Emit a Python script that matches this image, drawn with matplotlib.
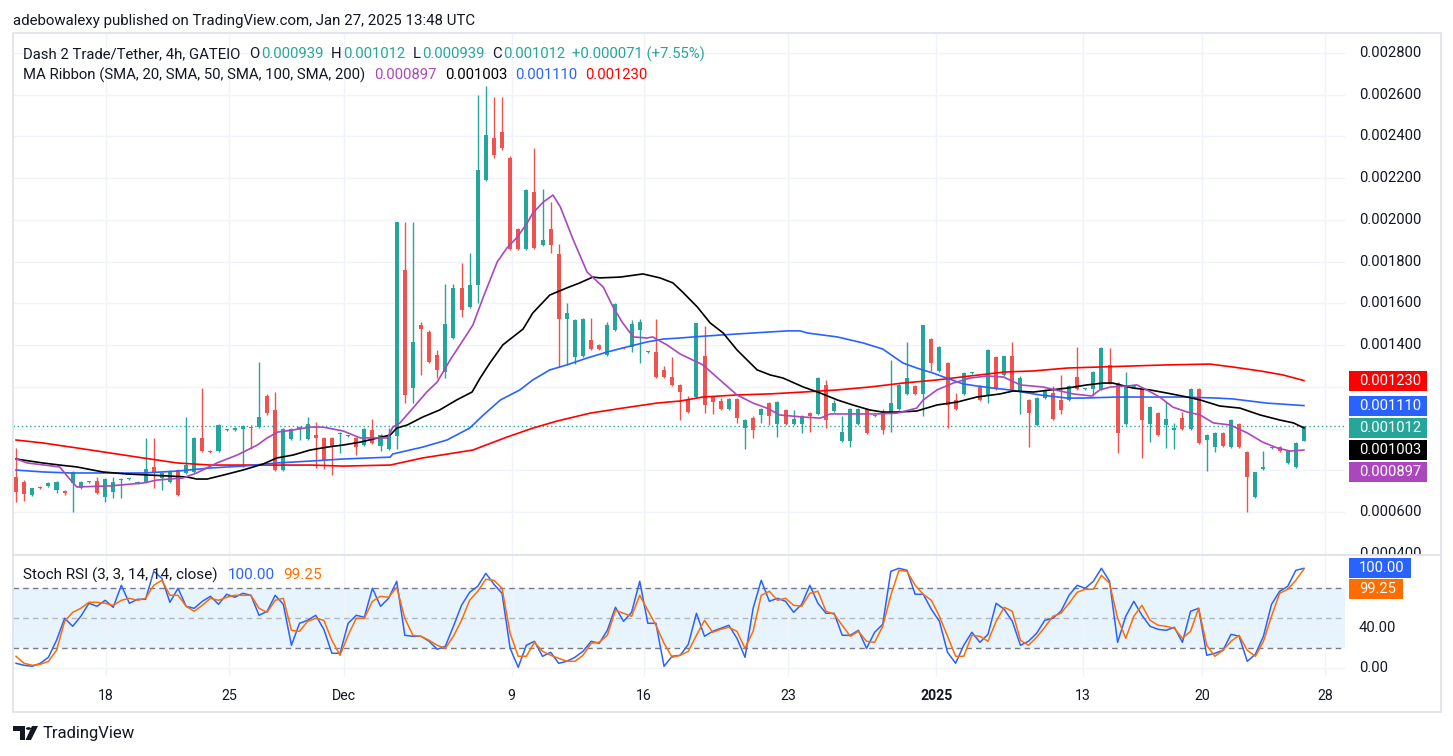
import numpy as np
import matplotlib

matplotlib.use("Agg")
import matplotlib.pyplot as plt
from matplotlib.patches import Rectangle, Polygon, Circle
from matplotlib.transforms import blended_transform_factory

plt.rcParams["font.family"] = ["Roboto", "DejaVu Sans"]

# ---------------------------------------------------------------------------
# Data (prices in millionths of USDT, one candle per slot)
# ---------------------------------------------------------------------------
OPEN = [768, 744, 681, 720, 725, 705, 701, 739, 715, 744,
        748, 672, 696, 753, 758, 739, 744, 816, 763, 744,
        801, 787, 792, 955, 892, 892, 991, 993, 998, 1007,
        1007, 1156, 1089, 801, 950, 998, 950, 969, 955, 955,
        974, 964, 955, 921, 993, 916, 902, 964, 1760, 1194,
        1496, 1463, 1353, 1271, 1434, 1674, 1583, 1688, 2191, 2393,
        2421, 2297, 1956, 1860, 2134, 1880, 1956, 1837, 1525, 1343,
        1348, 1424, 1401, 1353, 1472, 1386, 1391, 1472, 1367, 1367,
        1281, 1247, 1209, 1137, 1151, 1348, 1151, 1132, 1094, 1142,
        1002, 1050, 1065, 1122, 1022, 1089, 1022, 1022, 1074, 1070,
        1209, 1084, 940, 940, 1022, 1094, 1060, 1079, 1074, 1094,
        1166, 1204, 1166, 1429, 1276, 1314, 1137, 1166, 1266, 1204,
        1161, 1343, 1257, 1348, 1175, 1137, 1017, 1146, 1170, 1137,
        1137, 1247, 1190, 1190, 1190, 1305, 1218, 1022, 1199, 1190,
        1022, 1074, 1017, 993, 1050, 998, 1190, 945, 911, 979,
        911, 1022, 887, 672, 806, 907, 911, 835, 816, 939]
HIGH = [907, 753, 715, 725, 744, 748, 705, 796, 748, 748,
        768, 763, 768, 763, 762, 748, 955, 955, 792, 801,
        806, 1055, 959, 1194, 897, 1022, 998, 1005, 1017, 1017,
        1319, 1166, 1175, 1002, 1002, 1012, 1055, 1031, 959, 959,
        983, 969, 959, 1002, 1046, 974, 1002, 1990, 1990, 1990,
        1511, 1472, 1377, 1693, 1693, 1793, 1841, 2599, 2642, 2589,
        2589, 2306, 1961, 2148, 2345, 2148, 2086, 1885, 1602, 1525,
        1530, 1530, 1405, 1511, 1602, 1391, 1520, 1525, 1372, 1525,
        1300, 1343, 1214, 1156, 1506, 1491, 1156, 1146, 1146, 1146,
        1046, 1060, 1098, 1127, 1132, 1094, 1089, 1065, 1079, 1247,
        1233, 1137, 1060, 1098, 1098, 1098, 1065, 1094, 1329, 1214,
        1415, 1209, 1496, 1434, 1396, 1319, 1170, 1271, 1271, 1209,
        1381, 1348, 1348, 1415, 1252, 1142, 1151, 1190, 1204, 1257,
        1209, 1391, 1194, 1276, 1391, 1386, 1223, 1271, 1214, 1194,
        1108, 1079, 1127, 1027, 1079, 1194, 1194, 974, 983, 983,
        1046, 1027, 892, 792, 892, 911, 916, 897, 935, 1012]
LOW = [648, 653, 677, 710, 720, 691, 681, 600, 710, 739,
       686, 648, 667, 667, 755, 734, 739, 715, 705, 739,
       677, 782, 787, 887, 883, 887, 988, 990, 816, 902,
       1002, 1065, 796, 796, 945, 945, 945, 811, 806, 777,
       883, 959, 873, 916, 926, 892, 897, 902, 1122, 1122,
       1257, 1314, 1242, 1242, 1429, 1535, 1578, 1602, 2187, 2297,
       2335, 1856, 1856, 1856, 1860, 1875, 1841, 1295, 1305, 1309,
       1343, 1377, 1377, 1348, 1467, 1381, 1367, 1314, 1362, 1242,
       1242, 1204, 1041, 1074, 1146, 1074, 1070, 1089, 1089, 1027,
       902, 955, 1027, 1017, 959, 1017, 1017, 979, 983, 1065,
       1002, 1079, 935, 911, 1017, 974, 1055, 974, 983, 1089,
       1161, 1161, 1060, 1276, 1271, 1002, 1089, 1161, 1261, 1132,
       1122, 1185, 1252, 1180, 1070, 911, 1012, 1142, 1041, 1070,
       1132, 1185, 1185, 1156, 1185, 1214, 883, 1017, 1194, 859,
       935, 964, 907, 902, 993, 993, 926, 796, 887, 911,
       907, 907, 600, 667, 801, 902, 887, 830, 811, 939]
CLOSE = [696, 686, 715, 715, 739, 744, 691, 792, 744, 748,
         691, 758, 744, 758, 760, 744, 806, 787, 787, 796,
         681, 825, 955, 892, 887, 1017, 995, 1002, 1012, 1002,
         1055, 1074, 801, 998, 998, 1007, 1022, 955, 849, 916,
         979, 966, 911, 998, 931, 969, 964, 1990, 1161, 1415,
         1477, 1319, 1281, 1501, 1674, 1568, 1688, 2239, 2407, 2311,
         2345, 1860, 1860, 2143, 1865, 1904, 1880, 1525, 1554, 1520,
         1525, 1381, 1381, 1496, 1597, 1384, 1501, 1511, 1369, 1247,
         1247, 1209, 1175, 1079, 1506, 1113, 1127, 1094, 1142, 1050,
         1041, 993, 1094, 1060, 1127, 1022, 1046, 1060, 1060, 1242,
         1041, 1122, 983, 1094, 1094, 979, 1062, 993, 1122, 1209,
         1242, 1166, 1496, 1314, 1391, 1113, 1094, 1266, 1268, 1137,
         1377, 1190, 1348, 1185, 1242, 1074, 1146, 1185, 1046, 1089,
         1204, 1190, 1192, 1271, 1386, 1218, 979, 1209, 1209, 1041,
         1103, 969, 1046, 1002, 998, 1190, 931, 969, 979, 916,
         1041, 911, 768, 792, 816, 909, 892, 897, 931, 1012]

# MA Ribbon lines, read at candle positions (x = candle slot)
SMA20_X = [0, 1.4, 5.4, 6.4, 7.5, 11.6, 15.7, 17.4, 20.6, 22.3,
           24.8, 27.3, 29.8, 31.0, 32.3, 34.2, 36.3, 37.9, 40.4, 42.5,
           45.9, 46.5, 47.4, 49.0, 50.7, 52.0, 53.6, 55.2, 56.4, 57.7,
           59.4, 60.6, 61.9, 63.1, 63.8, 65.1, 66.3, 67.2, 68.8, 70.5,
           72.5, 73.7, 74.9, 76.2, 77.9, 78.6, 80.4, 82.0, 84.8, 86.9,
           89.0, 91.0, 92.7, 94.3, 97.2, 99.3, 100.5, 103.3, 106.3, 108.8,
           111.2, 112.0, 113.7, 115.7, 117.8, 119.9, 121.9, 124.0, 126.8, 128.9,
           130.5, 132.8, 133.8, 135.1, 137.2, 138.4, 139.6, 141.2, 142.8, 144.6,
           146.2, 147.8, 149.9, 152.0, 153.9, 155.7, 157.3, 159]
SMA20 = [854, 835, 816, 768, 720, 725, 739, 753, 763, 787,
         835, 873, 921, 955, 983, 993, 1007, 1007, 988, 955,
         955, 1007, 1027, 1098, 1175, 1223, 1329, 1424, 1496, 1631,
         1798, 1865, 1918, 1985, 2033, 2086, 2119, 2062, 1904, 1750,
         1678, 1583, 1506, 1439, 1434, 1439, 1400, 1357, 1305, 1233,
         1161, 1122, 1098, 1065, 1055, 1050, 1070, 1070, 1070, 1074,
         1098, 1137, 1185, 1218, 1242, 1252, 1247, 1209, 1199, 1180,
         1166, 1156, 1185, 1199, 1204, 1209, 1185, 1151, 1103, 1079,
         1065, 1027, 1017, 979, 935, 907, 892, 897]
SMA50_X = [0, 3.3, 5.4, 7.5, 10.7, 13.7, 16.5, 21.1, 22.3, 23.6,
           25.6, 28.0, 30.5, 32.2, 34.2, 36.3, 38.4, 40.4, 42.5, 46.2,
           47.0, 48.3, 50.2, 52.3, 54.4, 56.3, 57.3, 58.5, 60.1, 62.6,
           63.8, 65.9, 68.0, 69.6, 71.2, 72.1, 74.6, 77.4, 79.5, 81.1,
           82.3, 84.1, 85.7, 87.3, 89.0, 91.5, 93.1, 94.7, 97.2, 99.3,
           101.4, 103.3, 105.4, 107.0, 108.8, 111.2, 113.7, 116.2, 118.6, 121.5,
           123.1, 125.6, 127.7, 129.8, 132.2, 134.2, 135.4, 137.9, 140.0, 142.1,
           144.6, 146.2, 148.6, 151.1, 153.6, 156.0, 157.7, 159]
SMA50 = [854, 835, 825, 816, 792, 782, 777, 768, 758, 758,
         777, 801, 830, 859, 873, 897, 911, 921, 935, 969,
         1002, 1017, 1055, 1089, 1137, 1175, 1242, 1314, 1401, 1477,
         1554, 1640, 1674, 1698, 1726, 1722, 1726, 1741, 1722, 1698,
         1654, 1583, 1506, 1458, 1377, 1281, 1257, 1242, 1199, 1170,
         1137, 1113, 1089, 1079, 1079, 1084, 1113, 1127, 1151, 1166,
         1180, 1175, 1185, 1194, 1209, 1218, 1218, 1194, 1185, 1170,
         1151, 1137, 1108, 1098, 1065, 1041, 1027, 1003]
SMA100_X = [0, 3.3, 6.7, 11.6, 15.7, 19.9, 24.0, 28.0, 32.2, 36.3,
            40.4, 46.2, 46.5, 50.2, 53.2, 56.0, 57.7, 59.8, 62.2, 63.8,
            65.9, 68.0, 70.5, 73.0, 75.4, 77.9, 79.9, 82.0, 83.6, 86.9,
            91.0, 95.2, 96.8, 97.7, 101.4, 104.6, 107.0, 109.5, 111.2, 113.2,
            114.9, 116.9, 118.6, 120.6, 122.7, 126.4, 129.8, 131.7, 135.9, 140.0,
            144.1, 148.3, 150.2, 154.4, 159]
SMA100 = [801, 792, 787, 787, 787, 796, 811, 820, 835, 844,
          854, 863, 878, 911, 945, 1002, 1065, 1137, 1185, 1233,
          1281, 1305, 1338, 1367, 1391, 1415, 1429, 1434, 1439, 1448,
          1458, 1468, 1468, 1458, 1439, 1410, 1381, 1314, 1290, 1266,
          1242, 1214, 1204, 1194, 1185, 1161, 1146, 1146, 1151, 1151,
          1151, 1146, 1142, 1122, 1110]
SMA200_X = [0, 3.3, 7.5, 11.6, 15.7, 19.9, 24.0, 28.0, 32.2, 36.3,
            40.4, 46.2, 50.2, 56.4, 60.6, 63.8, 66.8, 70.9, 74.9, 79.1,
            82.0, 84.8, 89.0, 93.1, 97.2, 101.4, 105.4, 109.5, 113.7, 117.8,
            122.1, 125.6, 129.8, 133.8, 137.9, 142.1, 147.4, 150.2, 153.6, 156.4,
            159]
SMA200 = [945, 931, 907, 883, 859, 835, 825, 825, 825, 825,
          820, 825, 859, 897, 959, 1002, 1036, 1074, 1098, 1122,
          1132, 1151, 1161, 1166, 1175, 1185, 1199, 1218, 1233, 1252,
          1271, 1276, 1290, 1295, 1300, 1305, 1309, 1295, 1276, 1257,
          1230]

# Stoch RSI (3, 3, 14, 14): K (blue) and D (orange), one value per candle
STOCH_K = [5, 3, 2, 5, 11, 28, 50, 42, 52, 65,
           62, 68, 61, 83, 65, 69, 69, 97, 90, 66,
           80, 62, 60, 67, 72, 64, 74, 71, 75, 73,
           53, 57, 73, 64, 23, 45, 48, 53, 39, 15,
           15, 45, 53, 51, 80, 62, 70, 87, 33, 32,
           32, 27, 19, 22, 42, 63, 76, 82, 95, 84,
           75, 20, 1, 23, 27, 12, 16, 5, 7, 11,
           17, 27, 25, 38, 61, 47, 56, 87, 45, 45,
           2, 12, 13, 24, 55, 32, 37, 40, 43, 30,
           11, 60, 88, 67, 70, 67, 56, 64, 83, 65,
           55, 55, 33, 33, 38, 20, 36, 44, 97, 100,
           98, 74, 74, 59, 47, 16, 5, 23, 36, 26,
           34, 65, 59, 47, 23, 27, 35, 48, 50, 57,
           73, 83, 80, 87, 100, 87, 26, 52, 67, 53,
           42, 39, 38, 41, 26, 57, 60, 13, 15, 18,
           34, 32, 7, 14, 32, 64, 77, 82, 98, 100]
STOCH_D = [12, 5, 3, 4, 7, 18, 47, 56, 60, 66,
           66, 65, 63, 68, 70, 68, 70, 83, 88, 73,
           73, 62, 57, 63, 70, 68, 71, 73, 73, 73,
           60, 56, 68, 70, 38, 37, 47, 50, 48, 28,
           13, 33, 50, 50, 67, 72, 71, 81, 50, 33,
           32, 28, 23, 20, 32, 48, 68, 77, 89, 88,
           80, 35, 12, 12, 26, 17, 13, 10, 7, 7,
           13, 25, 26, 33, 58, 55, 52, 73, 58, 43,
           25, 11, 13, 17, 33, 48, 36, 39, 41, 37,
           20, 37, 73, 77, 68, 70, 63, 62, 75, 77,
           57, 54, 43, 32, 37, 27, 26, 42, 73, 98,
           97, 83, 74, 68, 52, 32, 12, 12, 33, 32,
           27, 47, 61, 57, 28, 23, 31, 41, 52, 55,
           65, 76, 79, 79, 93, 85, 50, 30, 52, 63,
           48, 43, 42, 40, 30, 37, 60, 23, 12, 18,
           27, 33, 18, 12, 27, 52, 75, 79, 88, 99.25]

DATE_POS = [11.1, 26.3, 40.5, 61.2, 77.5, 95.3, 113.6, 131.7, 146.4, 161.6]
DATE_LABELS = ["18", "25", "Dec", "9", "16", "23", "2025", "13", "20", "28"]
PRICE_TICKS = [0.0004, 0.0006, 0.0008, 0.0010, 0.0012, 0.0014, 0.0016,
               0.0018, 0.0020, 0.0022, 0.0024, 0.0026, 0.0028]

SCALE = 1e-6
TEAL = "#26a69a"
RED = "#ef5350"
DARK = "#131722"
GRID = "#f0f3fa"
FRAME = "#e0e3eb"
C20, C50, C100, C200 = "#ab47bc", "#000000", "#2962ff", "#ff0000"
K_COL, D_COL = "#2962ff", "#ff6d00"

W, H = 1453, 756
fig = plt.figure(figsize=(W / 100, H / 100), dpi=100)


def fx(px):
    return px / W


def fy(py):
    return 1 - py / H


PLOT_L, PLOT_R, SCALE_R = 12.7, 1345, 1441
MAIN_T, MAIN_B, RSI_B = 33, 555, 677

ax = fig.add_axes([fx(PLOT_L), fy(MAIN_B), fx(PLOT_R - PLOT_L), fy(MAIN_T) - fy(MAIN_B)])
ax_rsi = fig.add_axes([fx(PLOT_L), fy(RSI_B), fx(PLOT_R - PLOT_L), fy(MAIN_B) - fy(RSI_B)], sharex=ax)
ax_ps = fig.add_axes([fx(PLOT_R), fy(MAIN_B), fx(SCALE_R - PLOT_R), fy(MAIN_T) - fy(MAIN_B)], sharey=ax)
ax_rs = fig.add_axes([fx(PLOT_R), fy(RSI_B), fx(SCALE_R - PLOT_R), fy(MAIN_B) - fy(RSI_B)], sharey=ax_rsi)

for a in (ax, ax_rsi, ax_ps, ax_rs):
    for s in a.spines.values():
        s.set_visible(False)
    a.tick_params(length=0)
for a in (ax_ps, ax_rs):
    a.set_xticks([])
    a.tick_params(labelleft=False, labelbottom=False)
    a.set_xlim(0, 1)

ax.set_xlim(-0.41, 164.07)
ax.set_ylim(393.9 * SCALE, 2895.8 * SCALE)
ax_rsi.set_ylim(-8.7, 113.3)

# grids
ax.set_xticks(DATE_POS)
ax.set_yticks(PRICE_TICKS)
ax.tick_params(labelbottom=False, labelleft=False)
ax.grid(True, color=GRID, lw=1)
ax.set_axisbelow(True)
ax_rsi.set_yticks([0, 40])
ax_rsi.tick_params(labelleft=False)
ax_rsi.grid(True, color=GRID, lw=1)
ax_rsi.set_axisbelow(True)

# ---------------------------------------------------------------------------
# Candles
# ---------------------------------------------------------------------------
o = np.array(OPEN) * SCALE
h = np.array(HIGH) * SCALE
l = np.array(LOW) * SCALE
c = np.array(CLOSE) * SCALE
x = np.arange(len(c))
cols = np.where(c >= o, TEAL, RED)
ax.vlines(x, l, h, colors=cols, lw=1, zorder=3)
body = np.maximum(np.abs(c - o), 5 * SCALE)
ax.bar(x, body, bottom=np.minimum(o, c), width=0.5, color=cols, lw=0, zorder=4)

# MA Ribbon
for xs, ys, col in ((SMA200_X, SMA200, C200), (SMA100_X, SMA100, C100),
                    (SMA50_X, SMA50, C50), (SMA20_X, SMA20, C20)):
    ax.plot(xs, np.array(ys) * SCALE, color=col, lw=1.2, zorder=5)

# last price line
ax.axhline(c[-1], color=TEAL, lw=1, ls=(0, (1, 2)), zorder=2)

# ---------------------------------------------------------------------------
# Stoch RSI pane
# ---------------------------------------------------------------------------
ax_rsi.axhspan(20, 80, color="#2196f3", alpha=0.1, lw=0, zorder=0)
for lvl, col in ((80, "#787b86"), (50, "#b2b5be"), (20, "#787b86")):
    ax_rsi.axhline(lvl, color=col, lw=1, ls=(0, (4, 3)), zorder=1)
ax_rsi.plot(x, STOCH_K, color=K_COL, lw=1.1, zorder=3)
ax_rsi.plot(x, STOCH_D, color=D_COL, lw=1.1, zorder=4)

ax_rsi.set_xticks(DATE_POS, DATE_LABELS)
ax_rsi.tick_params(axis="x", labelsize=10.2, labelcolor=DARK, pad=8.5)
for t in ax_rsi.get_xticklabels():
    if t.get_text() == "2025":
        t.set_fontweight("bold")

# ---------------------------------------------------------------------------
# Price scale: value tags (pushed apart so they do not overlap) and tick labels
# ---------------------------------------------------------------------------
tr_ps = blended_transform_factory(ax_ps.transAxes, ax_ps.transData)
box_h = 20 * 4.793 * SCALE
gap = 22 * 4.793 * SCALE
tags = [(SMA200[-1] * SCALE, C200), (SMA100[-1] * SCALE, C100), (c[-1], TEAL),
        (SMA50[-1] * SCALE, C50), (SMA20[-1] * SCALE, C20)]
tags.sort(key=lambda t: -t[0])
tag_pos = []
prev = None
for val, col in tags:
    yv = val if prev is None else min(val, prev - gap)
    prev = yv
    tag_pos.append(yv)
    ax_ps.add_patch(Rectangle((0.042, yv - box_h / 2), 0.812, box_h, transform=tr_ps,
                              facecolor=col, edgecolor="none", zorder=5))
    ax_ps.text(0.146, yv, f"{val:.6f}", transform=tr_ps, va="center", ha="left",
               fontsize=10.6, color="white", zorder=6)

for p in PRICE_TICKS:
    if any(abs(p - yv) < box_h * 0.8 for yv in tag_pos):
        continue  # hidden behind a value tag
    ax_ps.text(0.146, p, f"{p:.6f}", transform=tr_ps, va="center", ha="left",
               fontsize=10.6, color=DARK, clip_on=True)

tr_rs = blended_transform_factory(ax_rs.transAxes, ax_rs.transData)
rsi_tags = [(STOCH_K[-1], K_COL, 0.646), (STOCH_D[-1], D_COL, 0.563)]
prev = None
for val, col, wbox in rsi_tags:
    yv = val if prev is None else min(val, prev - 21)
    prev = yv
    ax_rs.add_patch(Rectangle((0.042, yv - 10), wbox, 20, transform=tr_rs,
                              facecolor=col, edgecolor="none", zorder=5))
    ax_rs.text(0.146, yv, f"{val:.2f}", transform=tr_rs, va="center", ha="left",
               fontsize=10.6, color="white", zorder=6)
for v in (0, 40):
    ax_rs.text(0.146, v, f"{v:.2f}", transform=tr_rs, va="center", ha="left",
               fontsize=10.6, color=DARK, clip_on=True)

# ---------------------------------------------------------------------------
# Frame, legends, header and footer
# ---------------------------------------------------------------------------
fig.add_artist(Rectangle((fx(PLOT_L), fy(711.7)), fx(SCALE_R - PLOT_L), fy(MAIN_T) - fy(711.7),
                         transform=fig.transFigure, fill=False, edgecolor=FRAME, lw=1.3))
fig.add_artist(plt.Line2D([fx(PLOT_L), fx(SCALE_R)], [fy(MAIN_B), fy(MAIN_B)],
                          transform=fig.transFigure, color=FRAME, lw=1.3))

renderer = fig.canvas.get_renderer()


def text_run(x_px, y_px, parts, size=10.7):
    xpos = x_px
    for s, col, g in parts:
        xpos += g
        t = fig.text(fx(xpos), fy(y_px), s, color=col, fontsize=size, va="center", ha="left")
        xpos = t.get_window_extent(renderer).x1


fig.text(fx(13), fy(20.7), "adebowalexy published on TradingView.com, Jan 27, 2025 13:48 UTC",
         fontsize=10.8, color=DARK, va="center", ha="left")

text_run(23, 54, [("Dash 2 Trade/Tether, 4h, GATEIO", DARK, 0),
                  ("O", DARK, 9), ("0.000939", TEAL, 1),
                  ("H", DARK, 8), ("0.001012", TEAL, 1),
                  ("L", DARK, 8), ("0.000939", TEAL, 1),
                  ("C", DARK, 8), ("0.001012", TEAL, 1),
                  ("+0.000071 (+7.55%)", TEAL, 7)])
text_run(23, 75, [("MA Ribbon (SMA, 20, SMA, 50, SMA, 100, SMA, 200)", DARK, 0),
                  (f"{SMA20[-1] * SCALE:.6f}", C20, 9),
                  (f"{SMA50[-1] * SCALE:.6f}", C50, 8),
                  (f"{SMA100[-1] * SCALE:.6f}", C100, 8),
                  (f"{SMA200[-1] * SCALE:.6f}", C200, 8)])
text_run(23, 575, [("Stoch RSI (3, 3, 14, 14, close)", DARK, 0),
                   (f"{STOCH_K[-1]:.2f}", K_COL, 10),
                   (f"{STOCH_D[-1]:.2f}", D_COL, 9)], size=11)

# TradingView logo + wordmark
fig.add_artist(Polygon([(fx(13), fy(726)), (fx(25), fy(726)), (fx(25), fy(740)), (fx(19.5), fy(740)),
                        (fx(19.5), fy(731)), (fx(13), fy(731))], closed=True,
                       transform=fig.transFigure, facecolor=DARK, edgecolor="none"))
fig.add_artist(Circle((fx(28.5), fy(728.5)), 2.6 / W, transform=fig.transFigure,
                      facecolor=DARK, edgecolor="none"))
fig.add_artist(Polygon([(fx(32), fy(726)), (fx(38), fy(726)), (fx(31), fy(740)), (fx(25.5), fy(740))],
                       closed=True, transform=fig.transFigure, facecolor=DARK, edgecolor="none"))
fig.text(fx(43), fy(733.5), "TradingView", fontsize=12, color=DARK, va="center", ha="left")

fig.savefig("out.png", dpi=100)
